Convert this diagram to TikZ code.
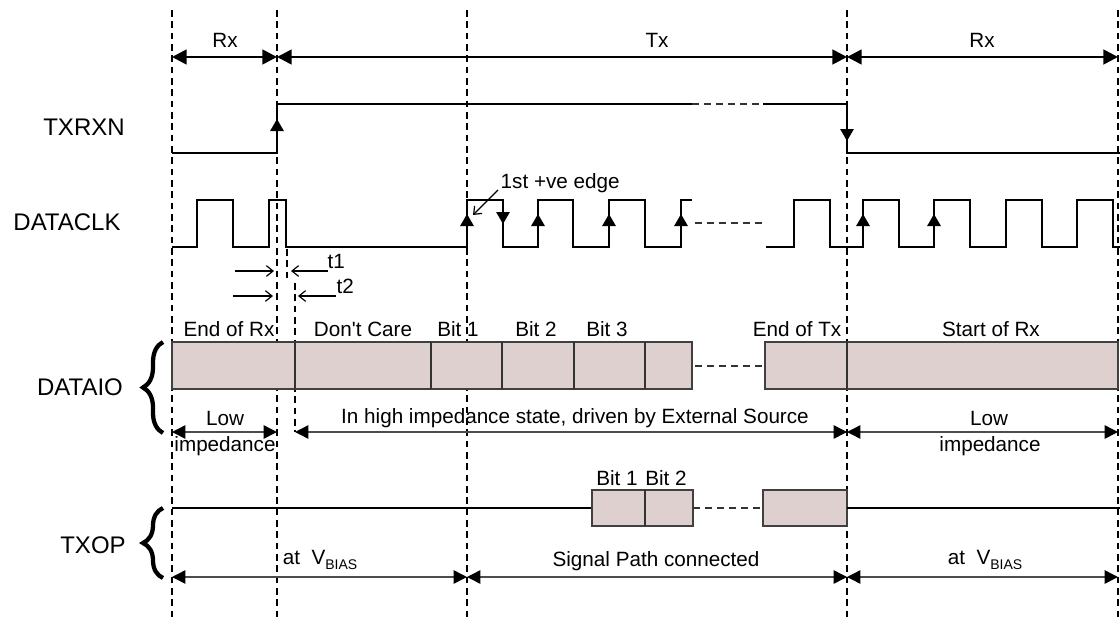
\documentclass[tikz,border=0pt]{standalone}
\usepackage{fontspec}
\setmainfont{Liberation Sans}
\usetikzlibrary{arrows.meta,decorations.pathreplacing}
\definecolor{boxfill}{RGB}{221,208,207}
\begin{document}
\begin{tikzpicture}[x=0.75pt,y=-0.75pt,
  vline/.style={dash pattern=on 5pt off 3.5pt, line width=1.4pt},
  sig/.style={line width=1.4pt},
  big/.style={font=\fontsize{18}{20}\selectfont},
  lab/.style={font=\fontsize{15.5}{17}\selectfont},
  toparr/.style={line width=2pt, {Triangle[length=11pt,width=11pt]}-{Triangle[length=11pt,width=11pt]}},
  dimarr/.style={line width=1.1pt, draw=black!70, {Triangle[length=10pt,width=10pt,color=black]}-{Triangle[length=10pt,width=10pt,color=black]}},
  edgearr/.style={-{Triangle[length=9pt,width=10pt]}, line width=1.4pt},
  thinarr/.style={-{Straight Barb[length=5pt,width=8pt]}, line width=0.9pt},
  bitbox/.style={fill=boxfill, draw=black!75, line width=0.9pt},
  divline/.style={draw=black!80, line width=0.9pt},
  gapdash/.style={dash pattern=on 5pt off 4pt, line width=1.2pt, draw=black!80},
  brc/.style={line width=3.2pt, decorate, decoration={brace, amplitude=15pt}}
]
\useasboundingbox (0,0) rectangle (1120,628);

% vertical dashed guide lines
\foreach \x in {172,277,467,847,1118}
  \draw[vline] (\x,10) -- (\x,620);
\draw[vline] (287,249) -- (287,280);
\draw[vline] (295,283) -- (295,432);

% left labels
\node[big] (lTXRXN) at (84,127) {TXRXN};
\node[big] (lCLK) at (67,222) {DATACLK};
\node[big] (lDIO) at (80,387) {DATAIO};
\node[big] (lTXOP) at (93,545) {TXOP};
\draw[brc] (163,433) -- (163,342);
\draw[brc] (163,578) -- (163,508);

% top Rx / Tx arrows
\draw[toparr] (172,57) -- (277,57);
\draw[toparr] (277,57) -- (847,57);
\draw[toparr] (847,57) -- (1118,57);
\node[lab] (rx1) at (225,40) {Rx};
\node[lab] (tx) at (657,40) {Tx};
\node[lab] (rx2) at (982,40) {Rx};

% TXRXN
\draw[sig] (172,153) -- (277,153) -- (277,104) -- (692,104);
\draw[gapdash] (692,104) -- (763,104);
\draw[sig] (763,104) -- (847,104) -- (847,153) -- (1120,153);
\draw[edgearr] (277,140) -- (277,119);
\draw[edgearr] (847,122) -- (847,141);

% DATACLK
\draw[sig] (172,247) -- (197,247) -- (197,200) -- (233,200) -- (233,247) -- (269,247) -- (269,200) -- (286,200) -- (286,247)
  -- (467,247) -- (467,200) -- (503,200) -- (503,247) -- (538,247) -- (538,200) -- (573,200) -- (573,247)
  -- (609,247) -- (609,200) -- (645,200) -- (645,247) -- (681,247) -- (681,200) -- (692,200);
\draw[gapdash] (695,223) -- (762,223);
\draw[sig] (766,247) -- (794,247) -- (794,200) -- (830,200) -- (830,247) -- (863,247) -- (863,200) -- (899,200) -- (899,247)
  -- (934,247) -- (934,200) -- (970,200) -- (970,247) -- (1006,247) -- (1006,200) -- (1042,200) -- (1042,247)
  -- (1077,247) -- (1077,200) -- (1113,200) -- (1113,247) -- (1120,247);
\foreach \x in {467,538,609,681,863,934}
  \draw[edgearr] (\x,232) -- (\x,214);
\draw[edgearr] (503,206) -- (503,224);
\node[lab, anchor=base west] (edge) at (496,188) {1st +ve edge};
\coordinate (edgetip) at (473,215);
\draw[thinarr] (498,190) -- (edgetip);

% t1 / t2
\draw[thinarr] (235,271) -- (274,271);
\draw[thinarr] (328,271) -- (291,271);
\node[lab, anchor=base west] (t1) at (323,268) {t1};
\draw[thinarr] (233,296) -- (273,296);
\draw[thinarr] (336,296) -- (298,296);
\node[lab, anchor=base west] (t2) at (332,293) {t2};

% DATAIO
\draw[bitbox] (172,342) rectangle (692,389);
\foreach \x in {295,431,502,574,645}
  \draw[divline] (\x,342) -- (\x,389);
\draw[gapdash] (695,366) -- (762,366);
\draw[bitbox] (765,342) rectangle (1118,389);
\draw[divline] (847,342) -- (847,389);
\foreach \x/\t/\n in {229/End of Rx/a, 363/Don\textquotesingle t Care/b, 458/Bit 1/c, 536/Bit 2/d, 607/Bit 3/e, 797/End of Tx/f, 991/Start of Rx/g}
  \node[lab, anchor=base] (d\n) at (\x,336) {\t};

\draw[dimarr] (172,432) -- (277,432);
\draw[dimarr] (295,432) -- (847,432);
\draw[dimarr] (847,432) -- (1118,432);
\node[lab] (low1) at (225,418) {Low};
\node[lab] (imp1) at (225,446) {impedance};
\node[lab] (hiz) at (575,418) {In high impedance state, driven by External Source};
\node[lab] (low2) at (989,418) {Low};
\node[lab] (imp2) at (990,446) {impedance};

% TXOP
\draw[sig] (172,508) -- (592,508);
\draw[bitbox] (592,490) rectangle (693,526);
\draw[divline] (645,490) -- (645,526);
\draw[gapdash] (693,508) -- (763,508);
\draw[bitbox] (763,490) rectangle (847,526);
\draw[sig] (847,508) -- (1120,508);
\node[lab] (tb1) at (617,478) {Bit 1};
\node[lab] (tb2) at (666,478) {Bit 2};

\draw[dimarr] (172,577) -- (467,577);
\draw[dimarr] (467,577) -- (847,577);
\draw[dimarr] (847,577) -- (1118,577);
\node[lab] (vb1) at (320,560) {at\ \ V\raisebox{-0.45ex}{\fontsize{10.5}{11}\selectfont BIAS}};
\node[lab] (spc) at (656,561) {Signal Path connected};
\node[lab] (vb2) at (985,560) {at\ \ V\raisebox{-0.45ex}{\fontsize{10.5}{11}\selectfont BIAS}};
\end{tikzpicture}
\end{document}
